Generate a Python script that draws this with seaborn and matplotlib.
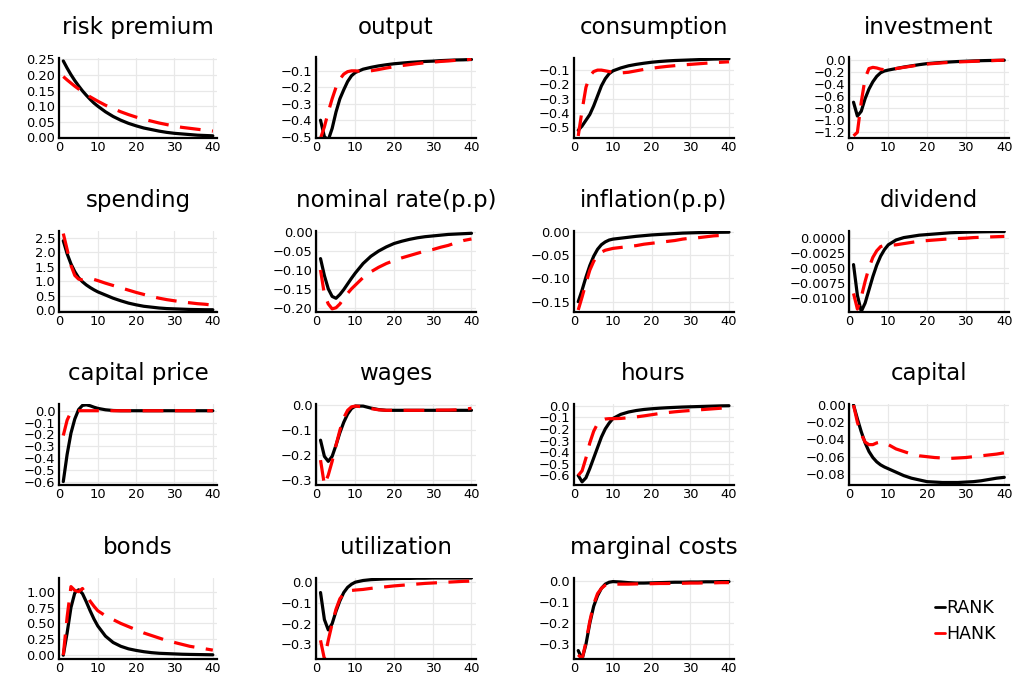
import numpy as np
import pandas as pd
import matplotlib
matplotlib.use("Agg")
import matplotlib.pyplot as plt
import seaborn as sns
from matplotlib.ticker import FixedLocator, FuncFormatter
from matplotlib.lines import Line2D

# ---------------- data ----------------
periods = [1, 2, 3, 4, 5, 6, 7, 8, 9, 10, 12, 14, 16, 18, 20, 22, 24, 26, 28, 30, 32, 34, 36, 38, 40]

titles = ["risk premium", "output", "consumption", "investment",
          "spending", "nominal rate(p.p)", "inflation(p.p)", "dividend",
          "capital price", "wages", "hours", "capital",
          "bonds", "utilization", "marginal costs"]

rank_risk_premium = [0.245, 0.222, 0.201, 0.182, 0.165, 0.149, 0.135, 0.122, 0.110, 0.100, 0.082, 0.067, 0.055, 0.045, 0.037, 0.030, 0.025, 0.020, 0.016, 0.013, 0.011, 0.009, 0.007, 0.006, 0.005]
hank_risk_premium = [0.195, 0.184, 0.174, 0.164, 0.155, 0.146, 0.138, 0.130, 0.123, 0.116, 0.103, 0.092, 0.082, 0.073, 0.065, 0.058, 0.052, 0.046, 0.041, 0.036, 0.032, 0.029, 0.026, 0.023, 0.020]

rank_output = [-0.40, -0.50, -0.52, -0.45, -0.35, -0.27, -0.215, -0.165, -0.13, -0.11, -0.09, -0.079, -0.07, -0.063, -0.057, -0.053, -0.049, -0.046, -0.043, -0.041, -0.038, -0.036, -0.034, -0.033, -0.031]
hank_output = [-0.51, -0.44, -0.35, -0.27, -0.20, -0.15, -0.12, -0.105, -0.10, -0.10, -0.105, -0.10, -0.092, -0.083, -0.075, -0.068, -0.062, -0.056, -0.051, -0.047, -0.043, -0.040, -0.036, -0.033, -0.030]

rank_consumption = [-0.52, -0.49, -0.45, -0.41, -0.35, -0.28, -0.21, -0.16, -0.125, -0.105, -0.085, -0.07, -0.06, -0.052, -0.045, -0.040, -0.036, -0.033, -0.031, -0.029, -0.027, -0.025, -0.023, -0.022, -0.021]
hank_consumption = [-0.56, -0.38, -0.22, -0.14, -0.11, -0.10, -0.10, -0.105, -0.11, -0.115, -0.12, -0.115, -0.105, -0.095, -0.087, -0.080, -0.074, -0.069, -0.064, -0.060, -0.056, -0.052, -0.048, -0.045, -0.042]

rank_investment = [-0.70, -0.93, -0.85, -0.64, -0.48, -0.36, -0.27, -0.21, -0.18, -0.165, -0.14, -0.115, -0.095, -0.075, -0.058, -0.047, -0.038, -0.030, -0.023, -0.018, -0.013, -0.009, -0.006, -0.004, -0.002]
hank_investment = [-1.26, -1.20, -0.70, -0.30, -0.14, -0.12, -0.13, -0.15, -0.16, -0.16, -0.14, -0.12, -0.10, -0.08, -0.065, -0.055, -0.045, -0.037, -0.030, -0.025, -0.020, -0.015, -0.010, -0.005, 0.0]

rank_spending = [2.40, 1.95, 1.60, 1.33, 1.12, 0.98, 0.87, 0.78, 0.70, 0.63, 0.52, 0.41, 0.32, 0.24, 0.18, 0.13, 0.10, 0.07, 0.05, 0.04, 0.03, 0.02, 0.015, 0.01, 0.01]
hank_spending = [2.65, 2.10, 1.55, 1.20, 1.07, 1.05, 1.07, 1.08, 1.06, 1.02, 0.93, 0.85, 0.77, 0.69, 0.61, 0.54, 0.47, 0.41, 0.36, 0.32, 0.28, 0.25, 0.22, 0.20, 0.17]

rank_nominal_rate = [-0.07, -0.115, -0.15, -0.17, -0.175, -0.165, -0.152, -0.137, -0.122, -0.108, -0.083, -0.064, -0.05, -0.039, -0.030, -0.024, -0.019, -0.015, -0.012, -0.010, -0.008, -0.006, -0.005, -0.004, -0.003]
hank_nominal_rate = [-0.10, -0.165, -0.19, -0.203, -0.20, -0.19, -0.175, -0.162, -0.15, -0.14, -0.12, -0.105, -0.093, -0.083, -0.075, -0.068, -0.062, -0.056, -0.050, -0.046, -0.040, -0.035, -0.028, -0.022, -0.018]

rank_inflation = [-0.15, -0.125, -0.097, -0.072, -0.052, -0.037, -0.027, -0.021, -0.017, -0.015, -0.013, -0.011, -0.009, -0.0075, -0.006, -0.005, -0.004, -0.003, -0.002, -0.0015, -0.001, -0.0007, -0.0004, -0.0002, 0.0]
hank_inflation = [-0.168, -0.14, -0.11, -0.082, -0.063, -0.05, -0.043, -0.039, -0.037, -0.035, -0.033, -0.031, -0.029, -0.026, -0.024, -0.022, -0.020, -0.018, -0.015, -0.013, -0.012, -0.010, -0.008, -0.007, -0.006]

rank_dividend = [-0.0044, -0.0095, -0.0122, -0.0108, -0.0086, -0.0064, -0.0045, -0.0030, -0.0019, -0.0011, -0.0003, 0.0001, 0.0003, 0.0005, 0.0006, 0.0007, 0.0008, 0.0009, 0.00095, 0.0010, 0.00103, 0.00106, 0.00108, 0.0011, 0.0011]
hank_dividend = [-0.0092, -0.0118, -0.0098, -0.0072, -0.0049, -0.0032, -0.0021, -0.0014, -0.0012, -0.0012, -0.0011, -0.0009, -0.0007, -0.0005, -0.0004, -0.0003, -0.0002, -0.0001, -0.00005, 0.0, 0.0001, 0.00015, 0.0002, 0.00025, 0.0003]

rank_capital_price = [-0.60, -0.37, -0.19, -0.07, 0.01, 0.045, 0.05, 0.042, 0.03, 0.02, 0.008, 0.002, 0.0, 0.0, 0.0, 0.0, 0.0, 0.0, 0.0, 0.0, 0.0, 0.0, 0.0, 0.0, 0.0]
hank_capital_price = [-0.21, -0.08, -0.01, 0.0, 0.0, 0.0, 0.0, 0.0, 0.0, 0.0, 0.0, 0.0, 0.0, 0.0, 0.0, 0.0, 0.0, 0.0, 0.0, 0.0, 0.0, 0.0, 0.0, 0.0, 0.0]

rank_wages = [-0.14, -0.205, -0.225, -0.205, -0.16, -0.11, -0.068, -0.035, -0.013, -0.003, -0.003, -0.011, -0.017, -0.02, -0.02, -0.02, -0.02, -0.02, -0.02, -0.02, -0.02, -0.02, -0.02, -0.02, -0.02]
hank_wages = [-0.22, -0.32, -0.28, -0.225, -0.16, -0.10, -0.05, -0.02, -0.006, -0.003, -0.006, -0.013, -0.018, -0.02, -0.02, -0.02, -0.02, -0.02, -0.02, -0.02, -0.019, -0.019, -0.018, -0.016, -0.012]

rank_hours = [-0.60, -0.655, -0.62, -0.54, -0.45, -0.36, -0.27, -0.20, -0.15, -0.11, -0.075, -0.055, -0.042, -0.033, -0.027, -0.022, -0.018, -0.015, -0.012, -0.010, -0.008, -0.006, -0.004, -0.002, -0.001]
hank_hours = [-0.60, -0.56, -0.45, -0.32, -0.22, -0.155, -0.125, -0.115, -0.112, -0.112, -0.11, -0.104, -0.097, -0.088, -0.078, -0.068, -0.060, -0.053, -0.047, -0.042, -0.037, -0.032, -0.027, -0.022, -0.018]

rank_capital = [0.0, -0.016, -0.031, -0.044, -0.054, -0.061, -0.066, -0.0695, -0.072, -0.074, -0.078, -0.082, -0.085, -0.087, -0.089, -0.0895, -0.090, -0.090, -0.090, -0.0895, -0.089, -0.088, -0.0865, -0.085, -0.084]
hank_capital = [0.0, -0.020, -0.034, -0.043, -0.046, -0.046, -0.044, -0.043, -0.044, -0.046, -0.051, -0.054, -0.057, -0.059, -0.060, -0.061, -0.0615, -0.062, -0.0615, -0.061, -0.060, -0.059, -0.058, -0.057, -0.0555]

rank_bonds = [0.0, 0.35, 0.75, 0.98, 1.03, 0.97, 0.84, 0.70, 0.57, 0.46, 0.30, 0.20, 0.14, 0.10, 0.075, 0.055, 0.04, 0.03, 0.025, 0.02, 0.015, 0.012, 0.01, 0.008, 0.006]
hank_bonds = [0.0, 0.60, 1.08, 1.02, 1.00, 1.05, 0.95, 0.85, 0.77, 0.70, 0.62, 0.56, 0.50, 0.45, 0.40, 0.35, 0.31, 0.27, 0.23, 0.20, 0.17, 0.14, 0.12, 0.10, 0.08]

rank_utilization = [-0.05, -0.18, -0.23, -0.20, -0.14, -0.09, -0.05, -0.025, -0.01, 0.0, 0.008, 0.012, 0.014, 0.016, 0.017, 0.018, 0.018, 0.019, 0.019, 0.02, 0.02, 0.02, 0.02, 0.02, 0.02]
hank_utilization = [-0.28, -0.37, -0.28, -0.20, -0.13, -0.08, -0.055, -0.045, -0.04, -0.038, -0.035, -0.03, -0.026, -0.022, -0.018, -0.015, -0.012, -0.009, -0.006, -0.004, -0.002, 0.0, 0.002, 0.004, 0.005]

rank_marginal_costs = [-0.33, -0.37, -0.30, -0.20, -0.12, -0.07, -0.035, -0.015, -0.006, -0.003, -0.005, -0.008, -0.01, -0.01, -0.009, -0.008, -0.007, -0.006, -0.006, -0.005, -0.005, -0.004, -0.004, -0.003, -0.003]
hank_marginal_costs = [-0.35, -0.37, -0.29, -0.19, -0.11, -0.06, -0.035, -0.02, -0.015, -0.015, -0.015, -0.015, -0.014, -0.014, -0.013, -0.012, -0.012, -0.011, -0.011, -0.010, -0.010, -0.009, -0.009, -0.008, -0.008]

rank_series = [rank_risk_premium, rank_output, rank_consumption, rank_investment,
               rank_spending, rank_nominal_rate, rank_inflation, rank_dividend,
               rank_capital_price, rank_wages, rank_hours, rank_capital,
               rank_bonds, rank_utilization, rank_marginal_costs]
hank_series = [hank_risk_premium, hank_output, hank_consumption, hank_investment,
               hank_spending, hank_nominal_rate, hank_inflation, hank_dividend,
               hank_capital_price, hank_wages, hank_hours, hank_capital,
               hank_bonds, hank_utilization, hank_marginal_costs]

x_ticks = [0, 10, 20, 30, 40]
y_ticks = [
    [0.0, 0.05, 0.10, 0.15, 0.20, 0.25],
    [-0.5, -0.4, -0.3, -0.2, -0.1],
    [-0.5, -0.4, -0.3, -0.2, -0.1],
    [-1.2, -1.0, -0.8, -0.6, -0.4, -0.2, 0.0],
    [0.0, 0.5, 1.0, 1.5, 2.0, 2.5],
    [-0.20, -0.15, -0.10, -0.05, 0.0],
    [-0.15, -0.10, -0.05, 0.0],
    [-0.0100, -0.0075, -0.0050, -0.0025, 0.0],
    [-0.6, -0.5, -0.4, -0.3, -0.2, -0.1, 0.0],
    [-0.3, -0.2, -0.1, 0.0],
    [-0.6, -0.5, -0.4, -0.3, -0.2, -0.1, 0.0],
    [-0.08, -0.06, -0.04, -0.02, 0.0],
    [0.0, 0.25, 0.50, 0.75, 1.00],
    [-0.3, -0.2, -0.1, 0.0],
    [-0.3, -0.2, -0.1, 0.0],
]
y_decimals = [2, 1, 1, 1, 1, 2, 2, 4, 1, 1, 1, 2, 2, 1, 1]
y_limits = [(-0.002, 0.256), (-0.508, -0.019), (-0.574, -0.012), (-1.295, 0.044),
            (-0.058, 2.756), (-0.2105, 0.0044), (-0.1717, 0.0036), (-0.01224, 0.00128),
            (-0.629, 0.057), (-0.32, 0.0054), (-0.682, 0.014), (-0.0929, 0.0012),
            (-0.06, 1.215), (-0.37, 0.02), (-0.37, 0.014)]

# ---------------- style ----------------
sns.set_theme(style="white")
plt.rcParams["font.family"] = ["DejaVu Sans"]
plt.rcParams["text.color"] = "black"

W, H = 1018, 685
fig = plt.figure(figsize=(W / 100, H / 100), dpi=100)
fig.patch.set_facecolor("white")

col_left = [58.8, 316.0, 573.7, 849.0]
col_width = [158.5, 160.0, 159.8, 159.8]
row_top = [57.5, 230.5, 404.0, 578.0]
row_bottom = [138.0, 311.7, 485.0, 659.0]

palette = {"RANK": "black", "HANK": "#ff0000"}
dash_map = {"RANK": "", "HANK": (6.5, 3.6)}


def fmt_factory(dec):
    def f(v, pos):
        s = f"{v:.{dec}f}"
        if s.startswith("-"):
            if float(s) == 0:
                s = s[1:]
            else:
                s = "\u2212" + s[1:]
        return s
    return f


for i, title in enumerate(titles):
    r, c = divmod(i, 4)
    l = col_left[c] / W
    b = 1 - row_bottom[r] / H
    w = col_width[c] / W
    h = (row_bottom[r] - row_top[r]) / H
    ax = fig.add_axes([l, b, w, h])
    df = pd.DataFrame({
        "t": periods * 2,
        "value": rank_series[i] + hank_series[i],
        "model": ["RANK"] * len(periods) + ["HANK"] * len(periods),
    })
    sns.lineplot(data=df, x="t", y="value", hue="model", style="model",
                 palette=palette, dashes=dash_map, hue_order=["RANK", "HANK"],
                 style_order=["RANK", "HANK"], linewidth=2.3, legend=False, ax=ax)
    ax.set_xlim(-0.17, 41.17)
    ax.set_ylim(*y_limits[i])
    ax.xaxis.set_major_locator(FixedLocator(x_ticks))
    ax.yaxis.set_major_locator(FixedLocator(y_ticks[i]))
    ax.yaxis.set_major_formatter(FuncFormatter(fmt_factory(y_decimals[i])))
    ax.set_xlabel("")
    ax.set_ylabel("")
    ax.grid(True, color="#e8e8e8", linewidth=0.9)
    for sp in ["top", "right"]:
        ax.spines[sp].set_visible(False)
    for sp in ["left", "bottom"]:
        ax.spines[sp].set_color("black")
        ax.spines[sp].set_linewidth(1.6)
    ax.tick_params(axis="both", which="major", labelsize=9.4, length=2, width=0.8,
                   direction="in", pad=2.5, colors="black")
    ax.set_title(title, fontsize=16.5, pad=17, color="black")

handles = [Line2D([0], [0], color="black", lw=2.0),
           Line2D([0], [0], color="#ff0000", lw=2.0)]
fig.legend(handles, ["RANK", "HANK"], loc="upper left",
           bbox_to_anchor=(928 / W, 1 - 592 / H), frameon=False,
           fontsize=12.5, handlelength=0.6, handletextpad=0.05,
           labelspacing=0.45, borderaxespad=0, labelcolor="black")

fig.savefig("out.png", dpi=100, facecolor="white")
